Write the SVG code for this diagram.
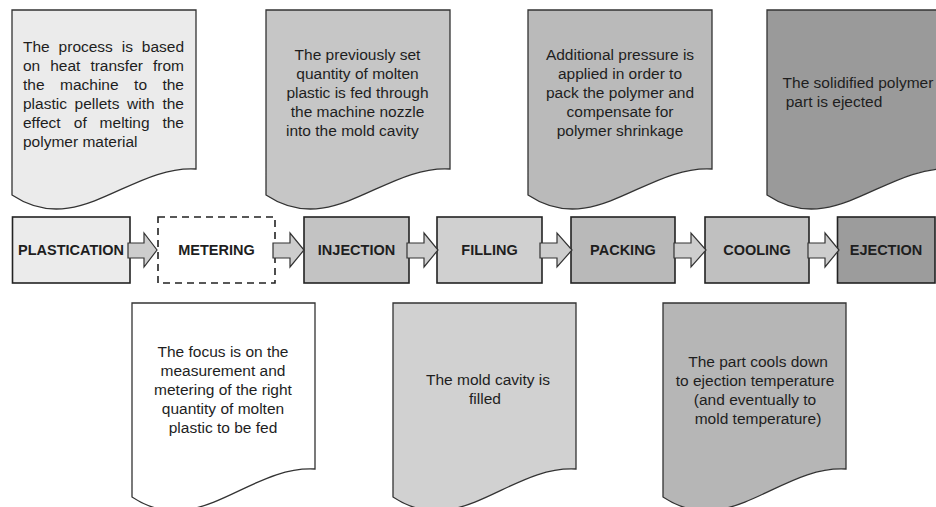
<svg xmlns="http://www.w3.org/2000/svg" xmlns:xlink="http://www.w3.org/1999/xlink" width="936" height="507" viewBox="0 0 936 507">
<defs>
<path id="docTop" d="M0,0 H184 V159 C118,155 66,229 0,185 Z"/>
<path id="docBot" d="M0,0 H183 V166 C117,162 66,238 0,194 Z"/>
<style>
.doc{stroke:#333;stroke-width:1.3}
.t{font-family:"Liberation Sans",Arial,sans-serif;font-size:15.5px;fill:#1e1e1e}
.c{text-anchor:middle}
.box{stroke:#222;stroke-width:1.6}
.lbl{font-family:"Liberation Sans",Arial,sans-serif;font-size:14.5px;font-weight:bold;fill:#1e1e1e;text-anchor:middle}
.arr{fill:#cdcdcd;stroke:#333;stroke-width:1.2;stroke-linejoin:miter}
</style>
</defs>
<rect width="936" height="507" fill="#fff"/>

<g id="note-plastication">
<use xlink:href="#docTop" href="#docTop" x="12" y="10" class="doc" fill="#ebebeb"/>
<text class="t" y="52"><tspan x="23">The</tspan><tspan x="58.6">process</tspan><tspan x="121.7">is</tspan><tspan x="184" text-anchor="end">based</tspan></text>
<text class="t" y="71"><tspan x="23">on</tspan><tspan x="50.2">heat</tspan><tspan x="90.4">transfer</tspan><tspan x="184" text-anchor="end">from</tspan></text>
<text class="t" y="90"><tspan x="23">the</tspan><tspan x="60">machine</tspan><tspan x="134.1">to</tspan><tspan x="184" text-anchor="end">the</tspan></text>
<text class="t" y="109"><tspan x="23">plastic</tspan><tspan x="74.6">pellets</tspan><tspan x="127.1">with</tspan><tspan x="184" text-anchor="end">the</tspan></text>
<text class="t" y="128"><tspan x="23">effect</tspan><tspan x="73.8">of</tspan><tspan x="99.6">melting</tspan><tspan x="184" text-anchor="end">the</tspan></text>
<text class="t" x="23" y="147">polymer material</text>
</g>

<g id="note-injection">
<use xlink:href="#docTop" href="#docTop" x="266" y="10" class="doc" fill="#c6c6c6"/>
<text class="t c" x="357.5" y="60">The previously set</text>
<text class="t c" x="357.5" y="79">quantity of molten</text>
<text class="t c" x="357.5" y="98">plastic is fed through</text>
<text class="t c" x="357.5" y="117">the machine nozzle</text>
<text class="t" x="286" y="136">into the mold cavity</text>
</g>

<g id="note-packing">
<use xlink:href="#docTop" href="#docTop" x="528" y="10" class="doc" fill="#bababa"/>
<text class="t c" x="620" y="60">Additional pressure is</text>
<text class="t c" x="620" y="79">applied in order to</text>
<text class="t c" x="620" y="98">pack the polymer and</text>
<text class="t c" x="620" y="117">compensate for</text>
<text class="t c" x="620" y="136">polymer shrinkage</text>
</g>

<g id="note-ejection">
<use xlink:href="#docTop" href="#docTop" x="767" y="10" class="doc" fill="#9a9a9a"/>
<text class="t c" x="858" y="88">The solidified polymer</text>
<text class="t c" x="834" y="107">part is ejected</text>
</g>

<g id="note-metering">
<use xlink:href="#docBot" href="#docBot" x="132" y="303" class="doc" fill="#ffffff"/>
<text class="t c" x="223" y="357">The focus is on the</text>
<text class="t c" x="223" y="376">measurement and</text>
<text class="t c" x="223" y="395">metering of the right</text>
<text class="t c" x="223" y="414">quantity of molten</text>
<text class="t c" x="223" y="433">plastic to be fed</text>
</g>

<g id="note-filling">
<use xlink:href="#docBot" href="#docBot" x="393" y="303" class="doc" fill="#d1d1d1"/>
<text class="t c" x="488" y="385">The mold cavity is</text>
<text class="t c" x="485" y="404">filled</text>
</g>

<g id="note-cooling">
<use xlink:href="#docBot" href="#docBot" x="663" y="303" class="doc" fill="#b6b6b6"/>
<text class="t c" x="758" y="367">The part cools down</text>
<text class="t c" x="755" y="386">to ejection temperature</text>
<text class="t c" x="755" y="405">(and eventually to</text>
<text class="t c" x="758" y="424">mold temperature)</text>
</g>

<g id="step-plastication">
<rect class="box" x="12.5" y="217" width="117.5" height="66" fill="#ebebeb"/>
<text class="lbl" x="71" y="255">PLASTICATION</text>
</g>
<g id="step-metering">
<rect x="158" y="217" width="117" height="66" fill="#fff" stroke="#222" stroke-width="1.6" stroke-dasharray="7,5"/>
<text class="lbl" x="216.5" y="255">METERING</text>
</g>
<g id="step-injection">
<rect class="box" x="304" y="217" width="105" height="66" fill="#c3c3c3"/>
<text class="lbl" x="356.5" y="255">INJECTION</text>
</g>
<g id="step-filling">
<rect class="box" x="437" y="217" width="105" height="66" fill="#d0d0d0"/>
<text class="lbl" x="489.5" y="255">FILLING</text>
</g>
<g id="step-packing">
<rect class="box" x="571" y="217" width="104" height="66" fill="#b9b9b9"/>
<text class="lbl" x="623" y="255">PACKING</text>
</g>
<g id="step-cooling">
<rect class="box" x="705" y="217" width="104" height="66" fill="#c0c0c0"/>
<text class="lbl" x="757" y="255">COOLING</text>
</g>
<g id="step-ejection">
<rect class="box" x="837.5" y="217" width="97.5" height="66" fill="#9c9c9c"/>
<text class="lbl" x="886" y="255">EJECTION</text>
</g>

<g id="connectors">
<polygon class="arr" points="128,243 144,243 144,233 157,250 144,267 144,258 128,258"/>
<polygon class="arr" points="273,243 290,243 290,233 304,250 290,267 290,258 273,258"/>
<polygon class="arr" points="407,243 424,243 424,233 438,250 424,267 424,258 407,258"/>
<polygon class="arr" points="540,243 557,243 557,233 572,250 557,267 557,258 540,258"/>
<polygon class="arr" points="674,243 691,243 691,233 706,250 691,267 691,258 674,258"/>
<polygon class="arr" points="808,243 825,243 825,233 839,250 825,267 825,258 808,258"/>
</g>
</svg>
